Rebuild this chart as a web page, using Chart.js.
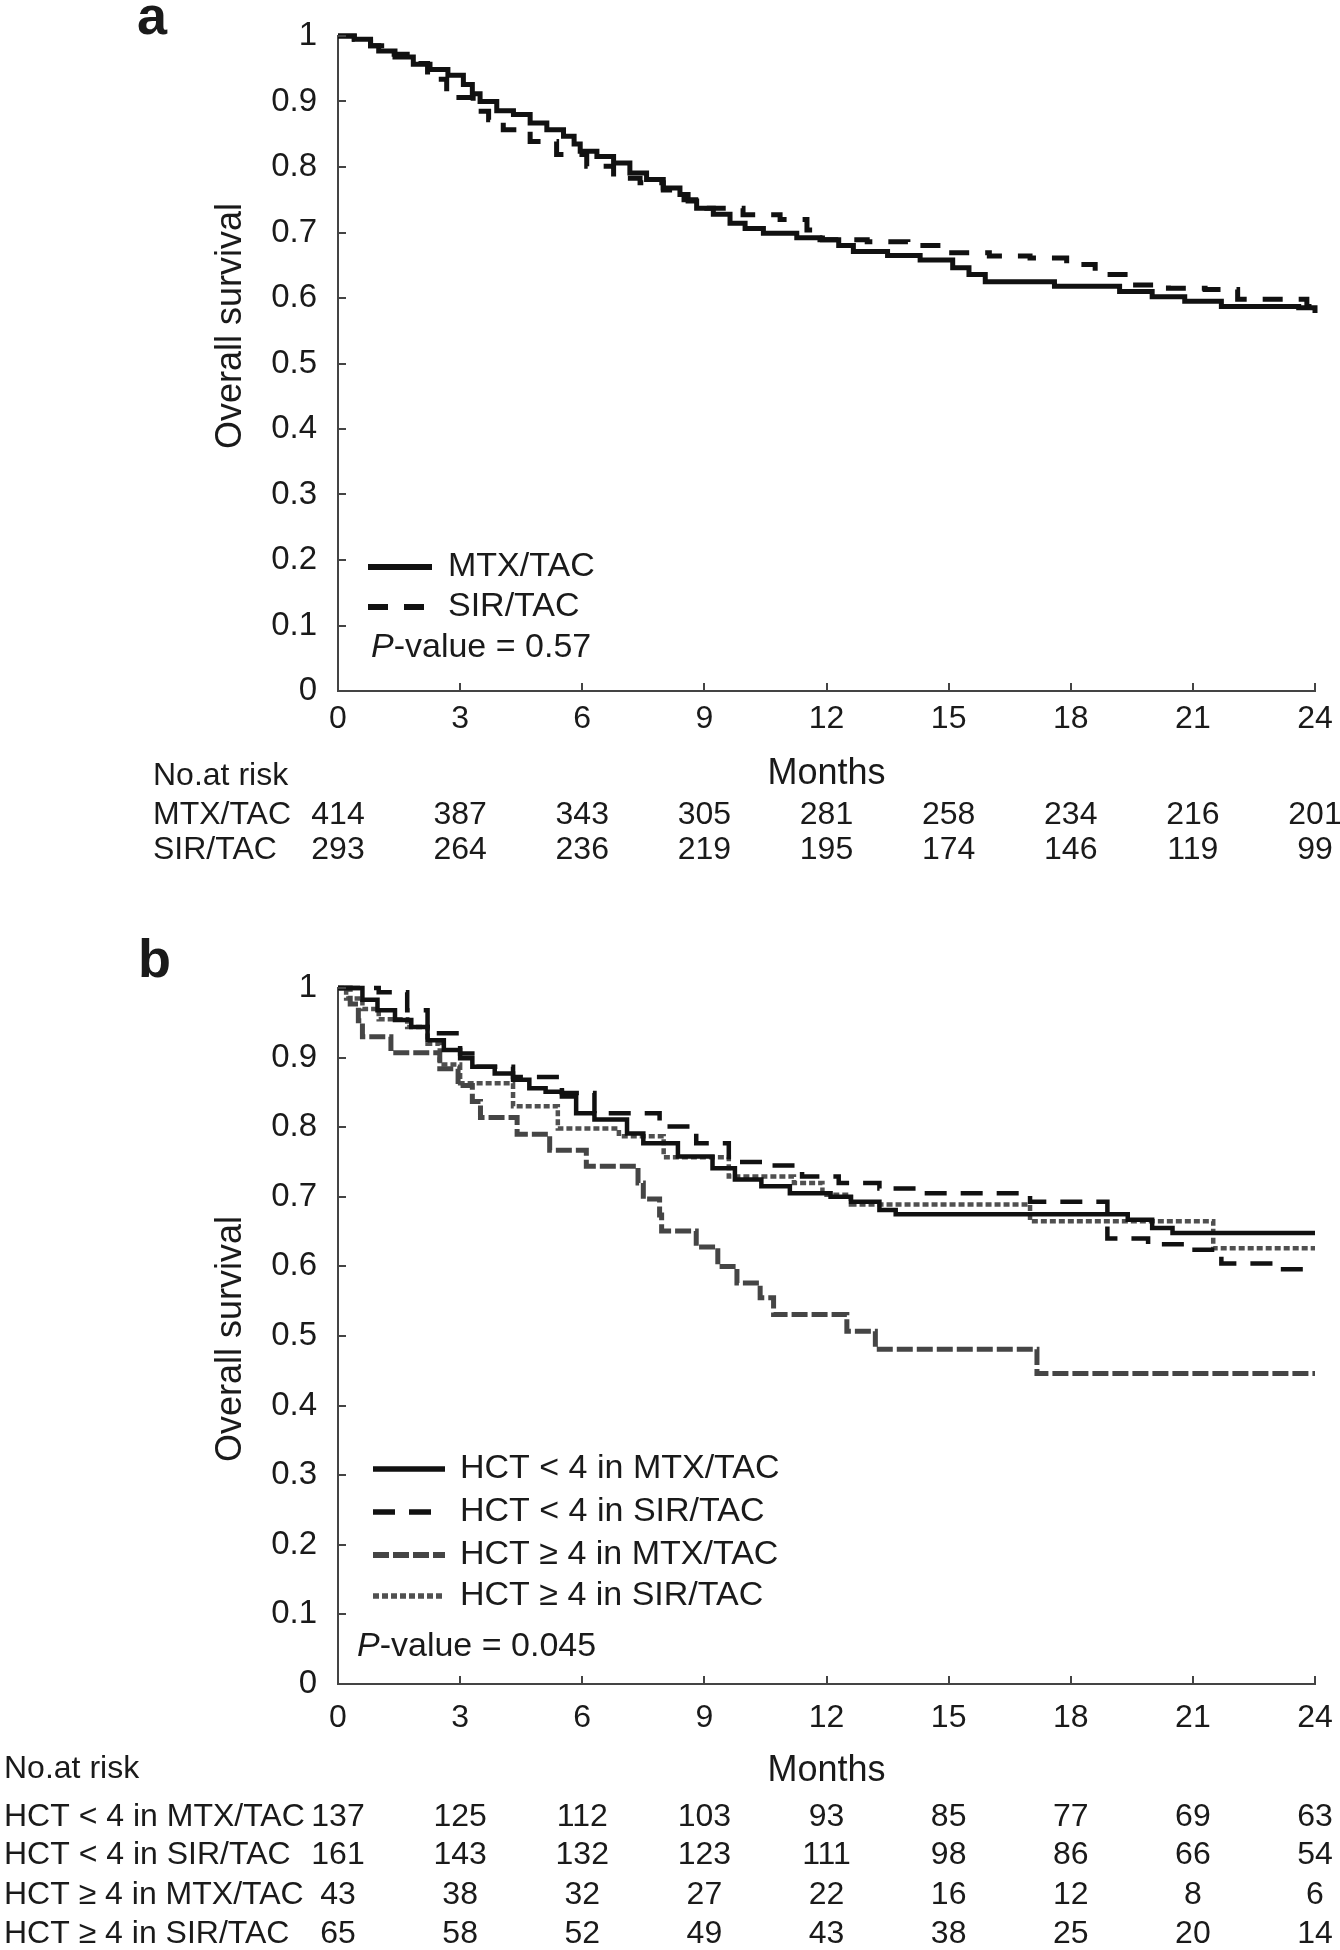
<!DOCTYPE html>
<html>
<head>
<meta charset="utf-8">
<script src="https://cdn.jsdelivr.net/npm/chart.js@4.4.1/dist/chart.umd.min.js"></script>
<style>
  html, body { margin: 0; padding: 0; background: #fff; }
  #wrap { position: relative; width: 1340px; height: 1950px; }
  canvas { position: absolute; left: 0; }
  #chartA { top: 0; }
  #chartB { top: 900px; }
</style>
</head>
<body>
<div id="wrap">
  <canvas id="chartA" width="1340" height="900"></canvas>
  <canvas id="chartB" width="1340" height="1050"></canvas>
</div>
<script>
// axis ticks
const monthTicks = [0, 3, 6, 9, 12, 15, 18, 21, 24];
const survTicks = [0, 0.1, 0.2, 0.3, 0.4, 0.5, 0.6, 0.7, 0.8, 0.9, 1];
const survTickLabels = ["0", "0.1", "0.2", "0.3", "0.4", "0.5", "0.6", "0.7", "0.8", "0.9", "1"];

// panel a - Kaplan-Meier steps
const aGroupLabels = ["MTX/TAC", "SIR/TAC"];
const aMtxTimes = [0, 0.4, 0.8, 1.0, 1.4, 1.85, 2.26, 2.7, 3.08, 3.3, 3.49, 3.9, 4.31, 4.72, 5.13, 5.54, 5.8, 5.95, 6.36, 6.77, 7.17, 7.58, 7.99, 8.4, 8.6, 8.81, 9.22, 9.63, 10.0, 10.45, 11.27, 11.84, 12.3, 12.66, 13.5, 14.3, 15.1, 15.5, 15.9, 17.6, 19.2, 20.0, 20.8, 21.7, 23.6, 24];
const aMtxSurv  = [1, 0.995, 0.985, 0.977, 0.968, 0.957, 0.949, 0.94, 0.926, 0.912, 0.9, 0.886, 0.88, 0.867, 0.857, 0.847, 0.835, 0.824, 0.816, 0.806, 0.791, 0.781, 0.768, 0.758, 0.748, 0.737, 0.728, 0.714, 0.706, 0.699, 0.692, 0.689, 0.68, 0.671, 0.665, 0.658, 0.646, 0.636, 0.625, 0.618, 0.61, 0.602, 0.595, 0.587, 0.585, 0.577];
const aSirTimes = [0, 0.4, 0.8, 1.2, 1.7, 2.2, 2.67, 3.32, 3.7, 4.06, 4.72, 5.37, 6.11, 6.77, 7.42, 7.99, 8.5, 9.06, 9.95, 10.86, 11.52, 11.9, 13.0, 14.0, 15.0, 16.0, 17.0, 17.9, 18.6, 19.4, 20.4, 21.3, 22.1, 23.8, 24];
const aSirSurv  = [1, 0.995, 0.985, 0.972, 0.958, 0.934, 0.906, 0.885, 0.872, 0.857, 0.839, 0.819, 0.801, 0.783, 0.776, 0.765, 0.75, 0.737, 0.727, 0.72, 0.704, 0.689, 0.686, 0.68, 0.669, 0.664, 0.661, 0.651, 0.636, 0.62, 0.615, 0.613, 0.598, 0.587, 0.58];
const aRiskMtx = [414, 387, 343, 305, 281, 258, 234, 216, 201];
const aRiskSir = [293, 264, 236, 219, 195, 174, 146, 119, 99];
const aPValue = "0.57";

// panel b
const bGroupLabels = ["HCT < 4 in MTX/TAC", "HCT < 4 in SIR/TAC", "HCT \u2265 4 in MTX/TAC", "HCT \u2265 4 in SIR/TAC"];
const bLowMtxTimes = [0, 0.6, 0.97, 1.4, 1.8, 2.2, 2.6, 3.0, 3.3, 3.85, 4.3, 4.7, 5.1, 5.5, 5.85, 6.3, 7.1, 7.5, 8.35, 9.2, 9.75, 10.4, 11.1, 12.1, 12.6, 13.3, 13.7, 19.4, 20.0, 20.5, 24];
const bLowMtxSurv  = [1, 0.983, 0.968, 0.954, 0.944, 0.925, 0.911, 0.899, 0.887, 0.877, 0.868, 0.856, 0.851, 0.844, 0.82, 0.811, 0.791, 0.777, 0.758, 0.741, 0.725, 0.715, 0.705, 0.7, 0.693, 0.681, 0.675, 0.667, 0.655, 0.648, 0.648];
const bLowSirTimes = [0, 1.0, 1.7, 2.2, 3.0, 3.4, 4.3, 5.5, 6.3, 7.9, 8.8, 9.6, 10.6, 11.4, 12.3, 13.3, 14.3, 17.0, 18.9, 19.9, 20.9, 21.7, 22.9, 23.9, 24];
const bLowSirSurv  = [1, 0.994, 0.968, 0.935, 0.906, 0.887, 0.872, 0.849, 0.82, 0.801, 0.777, 0.75, 0.745, 0.729, 0.72, 0.712, 0.705, 0.693, 0.64, 0.632, 0.624, 0.604, 0.596, 0.594, 0.594];
const bHighMtxTimes = [0, 0.3, 0.5, 0.6, 1.3, 2.5, 2.95, 3.3, 3.5, 4.4, 5.2, 6.1, 7.37, 7.5, 7.9, 7.95, 8.8, 9.33, 9.8, 10.37, 10.7, 12.5, 13.2, 17.17, 24];
const bHighMtxSurv  = [1, 0.977, 0.953, 0.93, 0.907, 0.884, 0.86, 0.837, 0.814, 0.79, 0.767, 0.744, 0.72, 0.697, 0.674, 0.651, 0.628, 0.6, 0.576, 0.555, 0.531, 0.507, 0.481, 0.446, 0.446];
const bHighSirTimes = [0, 0.2, 0.6, 1.0, 1.7, 2.2, 2.5, 3.0, 4.3, 5.4, 6.9, 8.0, 9.6, 11.2, 11.9, 12.6, 17.0, 21.5, 24];
const bHighSirSurv  = [1, 0.985, 0.97, 0.955, 0.944, 0.92, 0.89, 0.863, 0.83, 0.798, 0.787, 0.757, 0.729, 0.72, 0.703, 0.689, 0.665, 0.626, 0.626];
const bRiskLowMtx  = [137, 125, 112, 103, 93, 85, 77, 69, 63];
const bRiskLowSir  = [161, 143, 132, 123, 111, 98, 86, 66, 54];
const bRiskHighMtx = [43, 38, 32, 27, 22, 16, 12, 8, 6];
const bRiskHighSir = [65, 58, 52, 49, 43, 38, 25, 20, 14];
const bPValue = "0.045";

const textColor = "#1a1a1a";
const axisColor = "#444";
const fontFamily = "'Liberation Sans', Arial, Helvetica, sans-serif";

Chart.defaults.font.family = fontFamily;
Chart.defaults.color = textColor;

function kmData(times, surv) {
  return times.map((t, i) => ({ x: t, y: surv[i] }));
}

// draws inward ticks, panel letter, y title, legend, p-value, risk table
const kmExtras = {
  id: "kmExtras",
  afterDraw(chart, args, opts) {
    const { ctx, chartArea, scales: { x, y } } = chart;
    ctx.save();

    ctx.strokeStyle = axisColor;
    ctx.lineWidth = 2;
    ctx.setLineDash([]);
    ctx.beginPath();
    x.ticks.forEach(t => {
      if (t.value === 0) return;
      const px = Math.round(x.getPixelForValue(t.value));
      ctx.moveTo(px, chartArea.bottom);
      ctx.lineTo(px, chartArea.bottom - opts.tickLen);
    });
    y.ticks.forEach(t => {
      if (t.value === 0) return;
      const py = Math.round(y.getPixelForValue(t.value));
      ctx.moveTo(chartArea.left, py);
      ctx.lineTo(chartArea.left + opts.tickLen, py);
    });
    ctx.stroke();

    ctx.fillStyle = textColor;
    ctx.font = "bold 54px " + fontFamily;
    ctx.textAlign = "left";
    ctx.textBaseline = "alphabetic";
    ctx.fillText(opts.letter, opts.letterX, opts.letterY);

    ctx.save();
    ctx.translate(opts.yLabelX, opts.yLabelY);
    ctx.rotate(-Math.PI / 2);
    ctx.font = "36px " + fontFamily;
    ctx.textAlign = "center";
    ctx.textBaseline = "middle";
    ctx.fillText("Overall survival", 0, 0);
    ctx.restore();

    // legend
    ctx.textBaseline = "middle";
    ctx.textAlign = "left";
    chart.data.datasets.forEach((ds, i) => {
      const ly = opts.legendRows[i];
      ctx.strokeStyle = ds.borderColor;
      ctx.lineWidth = ds.borderWidth + 1;
      ctx.lineCap = "butt";
      ctx.setLineDash(ds.borderDash || []);
      ctx.beginPath();
      ctx.moveTo(opts.legendX0, ly);
      ctx.lineTo(opts.legendX1, ly);
      ctx.stroke();
      ctx.font = "34px " + fontFamily;
      ctx.fillText(ds.label, opts.legendTextX, ly);
    });
    ctx.setLineDash([]);

    ctx.font = "italic 34px " + fontFamily;
    ctx.fillText("P", opts.pX, opts.pY);
    const pw = ctx.measureText("P").width;
    ctx.font = "34px " + fontFamily;
    ctx.fillText("-value = " + opts.pValue, opts.pX + pw, opts.pY);

    // number at risk
    ctx.font = "32px " + fontFamily;
    ctx.fillText("No.at risk", opts.riskLabelX, opts.riskTitleY);
    opts.riskLabels.forEach((label, r) => {
      const ry = opts.riskRows[r];
      ctx.textAlign = "left";
      ctx.fillText(label, opts.riskLabelX, ry);
      ctx.textAlign = "center";
      opts.riskCounts[r].forEach((n, j) => {
        ctx.fillText(String(n), x.getPixelForValue(monthTicks[j]), ry);
      });
    });

    ctx.restore();
  }
};

function makeKmChart(canvas, datasets, cfg) {
  return new Chart(canvas, {
    type: "line",
    data: { datasets },
    options: {
      responsive: false,
      animation: false,
      devicePixelRatio: 1,
      layout: { padding: { left: 0, right: canvas.width - cfg.plotRight, top: cfg.plotTop, bottom: 0 } },
      elements: { point: { radius: 0 }, line: { tension: 0 } },
      plugins: {
        legend: { display: false },
        tooltip: { enabled: false },
        kmExtras: cfg.extras
      },
      scales: {
        x: {
          type: "linear",
          min: 0,
          max: 24,
          afterBuildTicks: s => { s.ticks = monthTicks.map(v => ({ value: v })); },
          afterFit: s => {
            s.height = canvas.height - cfg.plotBottom;
            s.paddingLeft = 0;
            s.paddingRight = 0;
          },
          grid: { display: false, drawTicks: false },
          border: { display: true, color: axisColor, width: 2 },
          ticks: {
            autoSkip: false,
            maxRotation: 0,
            padding: cfg.xTickPad,
            color: textColor,
            font: { size: 32 },
            callback: (v, i) => String(monthTicks[i])
          },
          title: {
            display: true,
            text: "Months",
            color: textColor,
            font: { size: 36 },
            padding: { top: 0, bottom: cfg.monthsPad }
          }
        },
        y: {
          min: 0,
          max: 1,
          afterBuildTicks: s => { s.ticks = survTicks.map(v => ({ value: v })); },
          afterFit: s => {
            s.width = cfg.plotLeft;
            s.paddingTop = 0;
            s.paddingBottom = 0;
          },
          grid: { display: false, drawTicks: false },
          border: { display: true, color: axisColor, width: 2 },
          ticks: {
            padding: 21,
            color: textColor,
            font: { size: 33 },
            callback: (v, i) => survTickLabels[i]
          }
        }
      }
    },
    plugins: [kmExtras]
  });
}

const stepLine = { stepped: true, clip: false, borderCapStyle: "butt", borderJoinStyle: "miter", fill: false };

makeKmChart(document.getElementById("chartA"), [
  Object.assign({ label: aGroupLabels[0], data: kmData(aMtxTimes, aMtxSurv), borderColor: "#111", borderWidth: 5, borderDash: [] }, stepLine),
  Object.assign({ label: aGroupLabels[1], data: kmData(aSirTimes, aSirSurv), borderColor: "#111", borderWidth: 5, borderDash: [20, 16] }, stepLine)
], {
  plotLeft: 338, plotRight: 1315, plotTop: 36, plotBottom: 691,
  xTickPad: 9, monthsPad: 104,
  extras: {
    tickLen: 8,
    letter: "a", letterX: 137, letterY: 34,
    yLabelX: 231, yLabelY: 326,
    legendX0: 368, legendX1: 432, legendTextX: 448, legendRows: [567, 607],
    pX: 371, pY: 648, pValue: aPValue,
    riskLabelX: 153, riskTitleY: 776, riskRows: [815, 850],
    riskLabels: aGroupLabels, riskCounts: [aRiskMtx, aRiskSir]
  }
});

makeKmChart(document.getElementById("chartB"), [
  Object.assign({ label: bGroupLabels[0], data: kmData(bLowMtxTimes, bLowMtxSurv), borderColor: "#111", borderWidth: 4.5, borderDash: [] }, stepLine),
  Object.assign({ label: bGroupLabels[1], data: kmData(bLowSirTimes, bLowSirSurv), borderColor: "#111", borderWidth: 4.5, borderDash: [22, 14] }, stepLine),
  Object.assign({ label: bGroupLabels[2], data: kmData(bHighMtxTimes, bHighMtxSurv), borderColor: "#454545", borderWidth: 5, borderDash: [16, 4] }, stepLine),
  Object.assign({ label: bGroupLabels[3], data: kmData(bHighSirTimes, bHighSirSurv), borderColor: "#505050", borderWidth: 4.5, borderDash: [6, 3] }, stepLine)
], {
  plotLeft: 338, plotRight: 1315, plotTop: 88, plotBottom: 784,
  xTickPad: 15, monthsPad: 157,
  extras: {
    tickLen: 8,
    letter: "b", letterX: 138, letterY: 77,
    yLabelX: 231, yLabelY: 439,
    legendX0: 373, legendX1: 445, legendTextX: 460, legendRows: [569, 612, 655, 696],
    pX: 357, pY: 747, pValue: bPValue,
    riskLabelX: 4, riskTitleY: 869, riskRows: [917, 955, 995, 1034],
    riskLabels: bGroupLabels, riskCounts: [bRiskLowMtx, bRiskLowSir, bRiskHighMtx, bRiskHighSir]
  }
});
</script>
</body>
</html>
